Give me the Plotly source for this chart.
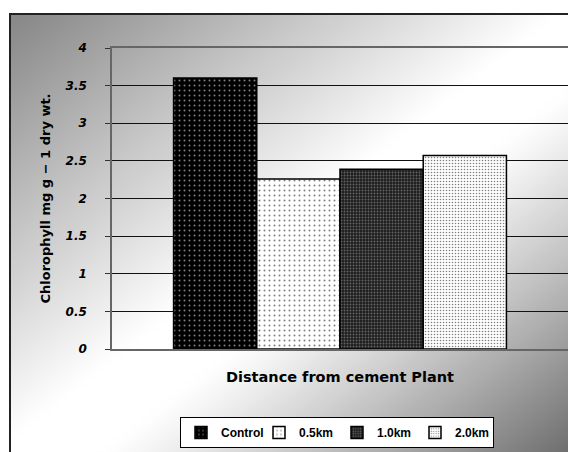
import base64, struct, zlib
import plotly.graph_objects as go

# ---- data ----
categories = ["Control", "0.5km", "1.0km", "2.0km"]
values = [3.6, 2.26, 2.39, 2.57]
group_label = ["Distance from cement Plant"]
y_ticks = [0, 0.5, 1, 1.5, 2, 2.5, 3, 3.5, 4]
y_ticktext = ["0", "0.5", "1", "1.5", "2", "2.5", "3", "3.5", "4"]

# ---- background gradient (grey corners, white diagonal) ----
def gradient_png(w, h):
    rows = bytearray()
    for j in range(h):
        rows.append(0)
        v = j / (h - 1)
        for i in range(w):
            u = i / (w - 1)
            s = u + v - 1
            if s < 0:
                t = max(0.0, (-s - 0.05) / 0.95)
                val = 255 - 118 * t
            else:
                t = max(0.0, (s - 0.15) / 0.85)
                val = 255 - 150 * t ** 1.1
            rows.append(max(0, min(255, int(val))))
    def chunk(t, d):
        c = struct.pack(">I", len(d)) + t + d
        return c + struct.pack(">I", zlib.crc32(t + d) & 0xffffffff)
    png = b"\x89PNG\r\n\x1a\n"
    png += chunk(b"IHDR", struct.pack(">IIBBBBB", w, h, 8, 0, 0, 0, 0))
    png += chunk(b"IDAT", zlib.compress(bytes(rows), 9))
    png += chunk(b"IEND", b"")
    return "data:image/png;base64," + base64.b64encode(png).decode()

W, H = 576, 452
OFF = 8  # page body margin offset
# target screen positions of the plot area
SX0, SX1, SY0, SY1 = 112, 568, 48, 349
ML, MR, MT, MB = SX0 - OFF, W - (SX1 - OFF), SY0 - OFF, H - (SY1 - OFF)
PW, PH = W - ML - MR, H - MT - MB

def px(x):  # screen x -> paper
    return (x - OFF - ML) / PW

def py(y):  # screen y -> paper
    return (H - MB - (y - OFF)) / PH

patterns = [
    dict(shape=".", bgcolor="#000000", fgcolor="#ffffff", size=5, solidity=0.12),
    dict(shape=".", bgcolor="#ffffff", fgcolor="#000000", size=5, solidity=0.12),
    dict(shape=".", bgcolor="#1e1e1e", fgcolor="#aaaaaa", size=3, solidity=0.3),
    dict(shape=".", bgcolor="#ffffff", fgcolor="#000000", size=3, solidity=0.22),
]

fig = go.Figure()
for name, val, pat in zip(categories, values, patterns):
    fig.add_trace(go.Bar(
        x=group_label, y=[val], name=name,
        marker=dict(color=pat["bgcolor"], pattern=pat,
                    line=dict(color="#000000", width=1.5)),
    ))

fig.update_layout(
    width=W, height=H,
    margin=dict(l=ML, r=MR, t=MT, b=MB, autoexpand=False),
    paper_bgcolor="#ffffff",
    plot_bgcolor="rgba(255,255,255,0.3)",
    barmode="group", bargap=0.27, bargroupgap=0,
    showlegend=True,
    legend=dict(
        orientation="h", x=px(337), xanchor="center", y=py(417), yanchor="top",
        bgcolor="#ffffff", bordercolor="#000000", borderwidth=1,
        font=dict(family="Liberation Sans", size=12, color="#000000", weight="bold"),
        itemwidth=30, entrywidth=33, entrywidthmode="pixels", tracegroupgap=0,
    ),
    xaxis=dict(
        automargin=False,
        showticklabels=False, ticks="", showgrid=False,
        showline=True, linecolor="#666666", linewidth=1.5, mirror=True,
        title=dict(text="Distance from cement Plant",
                   font=dict(family="DejaVu Sans", size=14.5, color="#000000", weight="bold"),
                   standoff=22),
    ),
    yaxis=dict(
        automargin=False,
        range=[0, 4], tickvals=y_ticks, ticktext=y_ticktext,
        tickfont=dict(family="DejaVu Sans", size=12, color="#000000",
                      weight="bold", style="italic"),
        ticks="outside", ticklen=5, tickcolor="#333333", ticklabelstandoff=16,
        showgrid=True, gridcolor="#111111", gridwidth=1,
        showline=True, linecolor="#666666", linewidth=1.5, mirror=True,
        zeroline=False,
        title=dict(text="Chlorophyll mg g − 1 dry wt.",
                   font=dict(family="DejaVu Sans", size=13, color="#000000", weight="bold"),
                   standoff=12),
    ),
    images=[dict(
        source=gradient_png(64, 64), xref="paper", yref="paper",
        x=px(10), y=py(14), sizex=(W + OFF - 10) / PW, sizey=(H + OFF - 14) / PH,
        xanchor="left", yanchor="top", sizing="stretch", layer="below",
    )],
    shapes=[dict(
        type="rect", xref="paper", yref="paper",
        x0=px(10), x1=px(600), y0=py(480), y1=py(14),
        line=dict(color="#222222", width=2), fillcolor="rgba(0,0,0,0)", layer="above",
    )],
)

fig.write_html("out.html")
